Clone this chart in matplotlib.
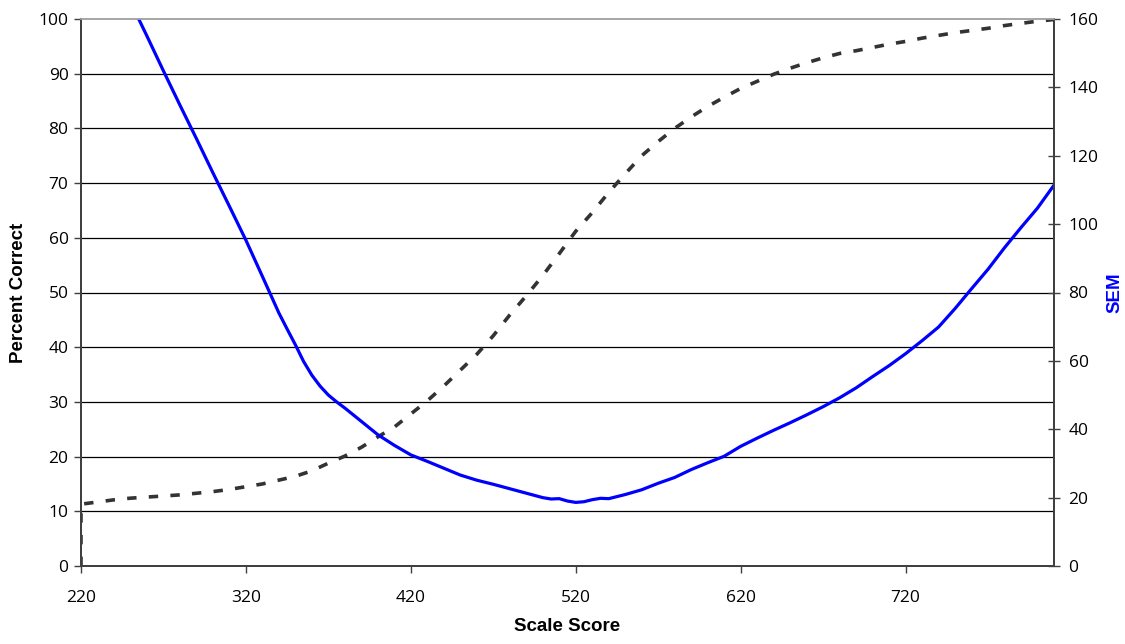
import matplotlib.pyplot as plt

# scale score grid
scores = [220, 220, 230, 240, 250, 260, 270, 280, 290, 300, 310, 320, 330, 340, 350,
          360, 370, 380, 390, 400, 410, 420, 430, 440, 450, 460, 470, 480, 490,
          500, 510, 520, 530, 540, 550, 560, 570, 580, 590, 600, 610, 620, 630,
          640, 650, 660, 670, 680, 690, 700, 710, 720, 730, 740, 750, 760, 770,
          780, 790, 800, 810]
pct_correct = [0, 11.3, 11.7, 12.1, 12.4, 12.6, 12.8, 13.0, 13.3, 13.6, 14.0, 14.5,
               15.0, 15.7, 16.4, 17.4, 18.8, 20.1, 21.7, 23.6, 25.4, 27.8, 30.2,
               32.9, 35.8, 38.7, 42.1, 45.9, 49.4, 53.1, 57.1, 61.2, 64.6, 68.3,
               71.7, 75.0, 77.6, 80.0, 82.1, 84.0, 85.7, 87.3, 88.6, 89.9, 91.0,
               92.0, 92.9, 93.7, 94.2, 94.8, 95.4, 95.9, 96.5, 97.0, 97.5, 97.9,
               98.3, 98.8, 99.2, 99.6, 99.9]

sem_scores = [220, 230, 240, 250, 260, 270, 280, 290, 300, 310, 320, 330, 340, 345,
              350, 355, 360, 365, 370, 375, 380, 390, 400, 410, 420, 430, 440, 450,
              460, 470, 480, 490, 500, 505, 510, 515, 520, 525, 530, 535, 540, 550,
              560, 570, 580, 590, 600, 610, 620, 630, 640, 650, 660, 670, 680, 690,
              700, 710, 720, 730, 740, 750, 760, 770, 780, 790, 800, 810]
sem = [195, 185, 175, 165, 155, 144.8, 134.8, 125, 115, 105.2, 95.3, 84.7, 74.0,
       69.3, 64.7, 59.8, 55.8, 52.6, 50.0, 48.0, 46.2, 42.3, 38.4, 35.3, 32.5,
       30.6, 28.6, 26.6, 25.1, 23.9, 22.6, 21.3, 20.0, 19.6, 19.7, 19.0, 18.6,
       18.8, 19.4, 19.8, 19.7, 20.9, 22.3, 24.2, 25.9, 28.2, 30.2, 32.1, 35.0,
       37.4, 39.7, 41.9, 44.2, 46.6, 49.2, 52.1, 55.4, 58.6, 62.1, 65.9, 69.9,
       75.3, 81.1, 86.8, 93.1, 99.0, 104.7, 111.4]

x_ticks = [220, 320, 420, 520, 620, 720]
left_ticks = list(range(0, 101, 10))
right_ticks = list(range(0, 161, 20))

tick_font = 'Open Sans'
label_font = 'Liberation Sans'

fig = plt.figure(figsize=(11.25, 6.44), dpi=100)
ax = fig.add_axes([81 / 1125, 1 - 566 / 644, (1054 - 81) / 1125, (566 - 19) / 644])
ax2 = ax.twinx()

for y in left_ticks[1:-1]:
    ax.axhline(y, color='black', lw=0.9, zorder=0)

ax.plot(scores, pct_correct, color='#333333', lw=2.6, linestyle=(0, (2.6, 3.4)),
        zorder=3)
ax2.plot(sem_scores, sem, color='#0000ff', lw=2.3, solid_joinstyle='round')

ax.set_xlim(220, 810)
ax.set_ylim(0, 100)
ax2.set_ylim(0, 160)
ax.set_xticks(x_ticks)
ax.set_yticks(left_ticks)
ax2.set_yticks(right_ticks)

for a in (ax, ax2):
    a.spines['top'].set_color('#a6a6a6')
    a.spines['left'].set_color('#404040')
    a.spines['right'].set_color('#404040')
    a.spines['bottom'].set_color('#404040')
    for s in ('left', 'right', 'bottom'):
        a.spines[s].set_linewidth(1.4)
    a.spines['top'].set_linewidth(1.2)

ax.tick_params(axis='x', direction='out', length=5, width=1, color='#404040',
               pad=12, labelsize=12.5)
ax.tick_params(axis='y', direction='out', length=5, width=1, color='#404040',
               pad=4, labelsize=12.5)
ax2.tick_params(axis='y', direction='inout', length=9, width=1, color='#404040',
                pad=6, labelsize=12.5)
for lab in ax.get_xticklabels() + ax.get_yticklabels() + ax2.get_yticklabels():
    lab.set_family(tick_font)

ax.set_xlabel('Scale Score', fontsize=13.5, fontweight='bold', family=label_font,
              labelpad=9)
ax.set_ylabel('Percent Correct', fontsize=13.5, fontweight='bold', family=label_font,
              labelpad=8)
ax2.set_ylabel('SEM', fontsize=13.5, fontweight='bold', family=label_font,
               color='#0000ff', labelpad=6)

fig.savefig('out.png', dpi=100)
